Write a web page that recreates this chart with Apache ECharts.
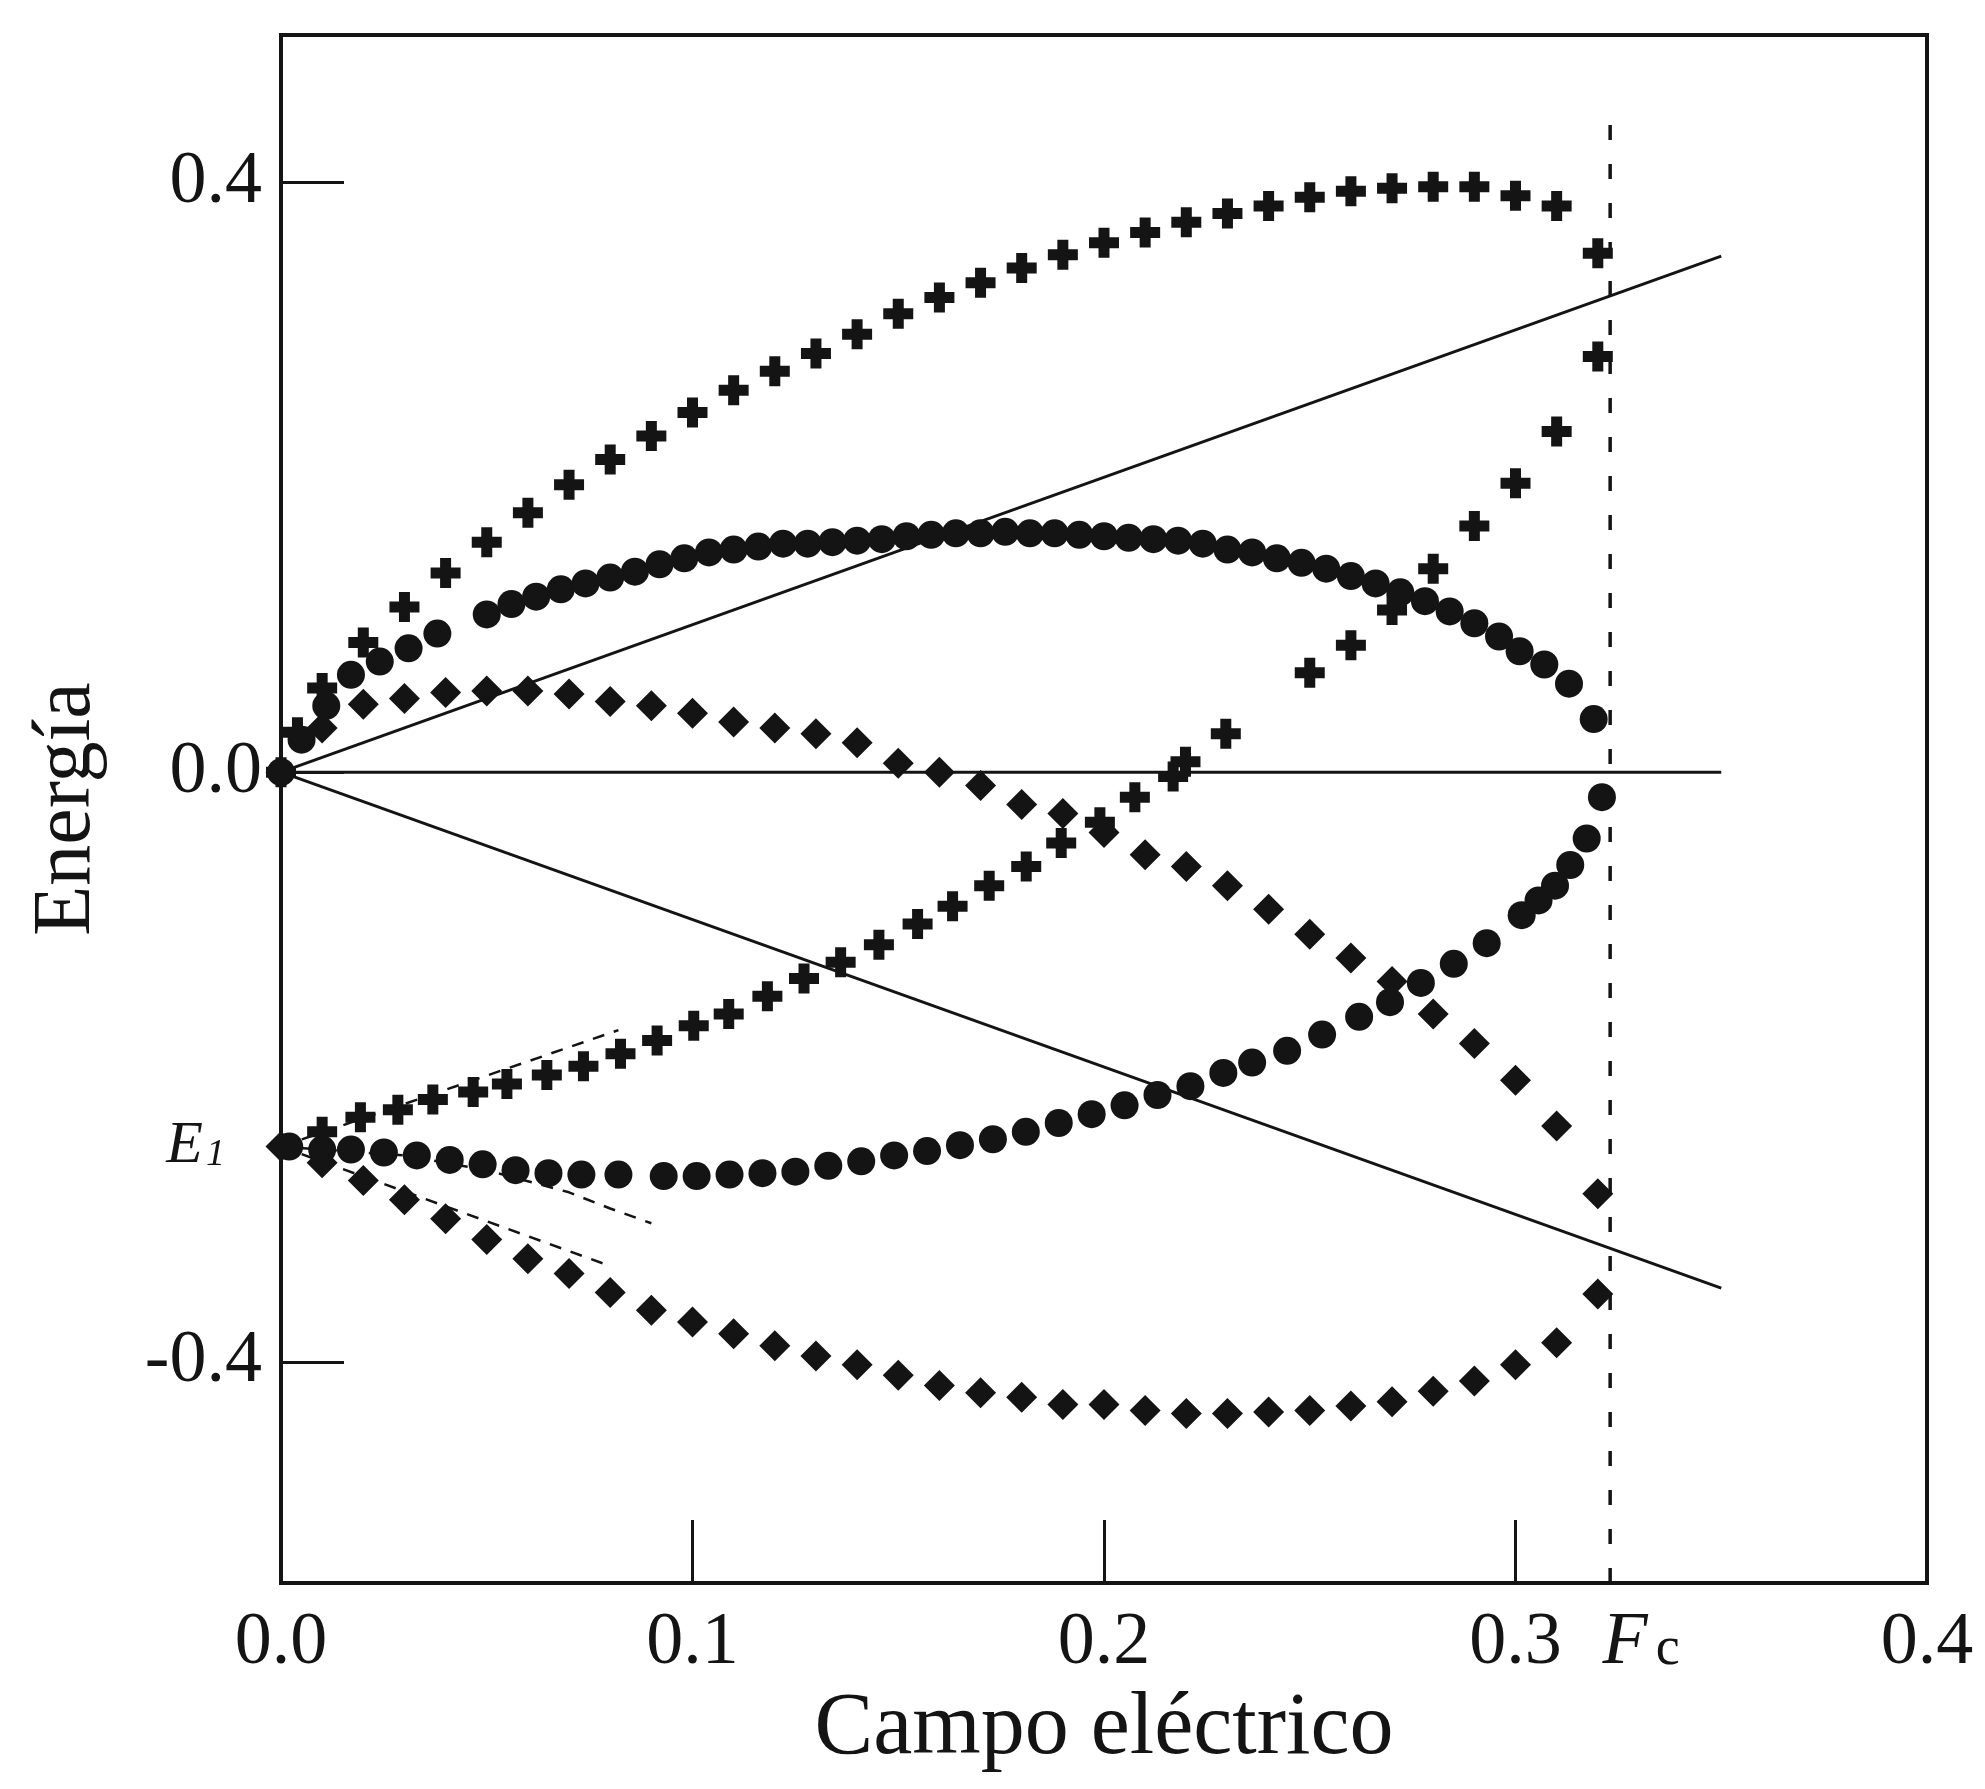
<!DOCTYPE html>
<html>
<head>
<meta charset="utf-8">
<script src="https://cdn.jsdelivr.net/npm/echarts@6.0.0/dist/echarts.min.js"></script>
<style>
html,body{margin:0;padding:0;background:#fff;}
#c{width:1985px;height:1789px;}
</style>
</head>
<body>
<div id="c"></div>
<script>
// ---- data ----
const FC = 0.323;   // critical field
const E1 = -0.254;  // level E1

const xLabelValues = [0, 0.1, 0.2, 0.3, FC, 0.4];
const xTickValues = [0.1, 0.2, 0.3];
const yLabelValues = [-0.4, E1, 0, 0.4];
const yTickValues = [-0.4, 0, 0.4];

// crosses
const crossUpF = [0, 0.004, 0.01, 0.02, 0.03, 0.04, 0.05, 0.06, 0.07, 0.08, 0.09, 0.10, 0.11, 0.12, 0.13, 0.14, 0.15, 0.16, 0.17, 0.18, 0.19, 0.20, 0.21, 0.22, 0.23, 0.24, 0.25, 0.26, 0.27, 0.28, 0.29, 0.30, 0.31, 0.32];
const crossUpE = [0.0, 0.027, 0.057, 0.088, 0.112, 0.135, 0.156, 0.176, 0.195, 0.212, 0.228, 0.244, 0.259, 0.272, 0.284, 0.297, 0.311, 0.322, 0.332, 0.342, 0.351, 0.359, 0.366, 0.373, 0.379, 0.384, 0.390, 0.394, 0.396, 0.397, 0.397, 0.391, 0.384, 0.352];
const crossLowF = [0.01, 0.0193, 0.0284, 0.0369, 0.0467, 0.0549, 0.0646, 0.0735, 0.0825, 0.0914, 0.1003, 0.1088, 0.1182, 0.1271, 0.136, 0.1453, 0.1547, 0.1632, 0.1721, 0.1811, 0.1896, 0.199, 0.2075, 0.2168, 0.2198, 0.2296, 0.25, 0.26, 0.27, 0.28, 0.29, 0.30, 0.31, 0.32];
const crossLowE = [-0.244, -0.234, -0.229, -0.222, -0.217, -0.2115, -0.2055, -0.1995, -0.191, -0.182, -0.172, -0.164, -0.152, -0.140, -0.129, -0.117, -0.103, -0.091, -0.077, -0.064, -0.048, -0.034, -0.017, -0.003, 0.007, 0.026, 0.0675, 0.086, 0.110, 0.138, 0.167, 0.196, 0.231, 0.282];

// circles
const circUpF = [0, 0.005, 0.011, 0.017, 0.024, 0.031, 0.038, 0.050, 0.056, 0.062, 0.068, 0.074, 0.080, 0.086, 0.092, 0.098, 0.104, 0.110, 0.116, 0.122, 0.128, 0.134, 0.140, 0.146, 0.152, 0.158, 0.164, 0.170, 0.176, 0.182, 0.188, 0.194, 0.200, 0.206, 0.212, 0.218, 0.224, 0.230, 0.236, 0.242, 0.248, 0.254, 0.260, 0.266, 0.272, 0.278, 0.284, 0.290, 0.296, 0.301, 0.307, 0.313, 0.319];
const circUpE = [0, 0.022, 0.045, 0.066, 0.075, 0.084, 0.094, 0.107, 0.114, 0.119, 0.124, 0.128, 0.132, 0.136, 0.141, 0.145, 0.149, 0.151, 0.153, 0.155, 0.155, 0.156, 0.157, 0.158, 0.160, 0.161, 0.162, 0.162, 0.163, 0.162, 0.162, 0.161, 0.160, 0.159, 0.158, 0.157, 0.155, 0.151, 0.149, 0.145, 0.142, 0.138, 0.133, 0.128, 0.122, 0.116, 0.109, 0.101, 0.092, 0.082, 0.073, 0.060, 0.036];
const circLowF = [0.002, 0.010, 0.017, 0.025, 0.033, 0.041, 0.049, 0.057, 0.065, 0.073, 0.082, 0.093, 0.101, 0.109, 0.117, 0.125, 0.133, 0.141, 0.149, 0.157, 0.165, 0.173, 0.181, 0.189, 0.197, 0.205, 0.213, 0.221, 0.229, 0.236, 0.2445, 0.253, 0.262, 0.2695, 0.277, 0.285, 0.293, 0.3015, 0.3056, 0.3096, 0.3133, 0.3173, 0.321];
const circLowE = [-0.254, -0.256, -0.256, -0.258, -0.260, -0.263, -0.266, -0.270, -0.272, -0.273, -0.273, -0.274, -0.274, -0.273, -0.272, -0.271, -0.267, -0.264, -0.260, -0.257, -0.253, -0.249, -0.244, -0.238, -0.232, -0.226, -0.219, -0.213, -0.204, -0.197, -0.189, -0.178, -0.166, -0.156, -0.143, -0.130, -0.116, -0.097, -0.087, -0.077, -0.063, -0.045, -0.017];

// diamonds
const diamF = [0, 0.01, 0.02, 0.03, 0.04, 0.05, 0.06, 0.07, 0.08, 0.09, 0.10, 0.11, 0.12, 0.13, 0.14, 0.15, 0.16, 0.17, 0.18, 0.19, 0.20, 0.21, 0.22, 0.23, 0.24, 0.25, 0.26, 0.27, 0.28, 0.29, 0.30, 0.31, 0.32];
const diamUpE = [0, 0.030, 0.046, 0.050, 0.054, 0.055, 0.055, 0.053, 0.048, 0.045, 0.040, 0.034, 0.030, 0.026, 0.020, 0.006, 0.000, -0.009, -0.022, -0.028, -0.041, -0.056, -0.064, -0.077, -0.093, -0.110, -0.126, -0.142, -0.164, -0.184, -0.209, -0.240, -0.286];
const diamLowE = [-0.254, -0.265, -0.277, -0.290, -0.303, -0.317, -0.330, -0.340, -0.353, -0.365, -0.373, -0.381, -0.389, -0.396, -0.402, -0.409, -0.416, -0.421, -0.424, -0.429, -0.429, -0.433, -0.435, -0.435, -0.434, -0.433, -0.430, -0.427, -0.420, -0.413, -0.402, -0.387, -0.354];

// reference straight lines E = +F, 0, -F
const refF = [0, 0.35];
const refUpE = [0, 0.35];
const refZeroE = [0, 0];
const refDownE = [0, -0.35];

// vertical dashed line at Fc
const fcLineE = [-0.55, 0.44];

// thin dashed approximations near E1
const pertUpF = [0, 0.082];
const pertUpE = [-0.254, -0.175];
const pertMidF = [0, 0.03, 0.05, 0.07, 0.08, 0.09];
const pertMidE = [-0.254, -0.260, -0.270, -0.285, -0.296, -0.306];
const pertLowF = [0, 0.08];
const pertLowE = [-0.254, -0.335];

// ---- chart ----
const INK = '#141414';
const FONT = '"Liberation Serif", "DejaVu Serif", serif';
const pairs = (F, E) => F.map((f, i) => [f, E[i]]);
const CROSS = 'path://M-1.1,-3L1.1,-3L1.1,-1.1L3,-1.1L3,1.1L1.1,1.1L1.1,3L-1.1,3L-1.1,1.1L-3,1.1L-3,-1.1L-1.1,-1.1Z';

function lineSeries(data, width, type) {
  return {
    type: 'line', data: data, symbol: 'none', silent: true, z: 2,
    lineStyle: { color: INK, width: width, type: type || 'solid' }
  };
}
function scatter(data, symbol, size) {
  return {
    type: 'scatter', data: data, symbol: symbol, symbolSize: size, z: 5, silent: true,
    itemStyle: { color: INK, opacity: 1 }
  };
}

const chart = echarts.init(document.getElementById('c'), null, { renderer: 'canvas' });
chart.setOption({
  animation: false,
  backgroundColor: '#ffffff',
  grid: {
    left: 281, top: 35, width: 1646, height: 1548,
    show: true, borderColor: INK, borderWidth: 4, backgroundColor: 'transparent'
  },
  xAxis: {
    type: 'value', min: 0, max: 0.4,
    axisLine: { show: false, onZero: false },
    splitLine: { show: false },
    axisTick: { show: true, inside: true, length: 63, customValues: xTickValues,
      lineStyle: { color: INK, width: 3 } },
    axisLabel: {
      customValues: xLabelValues, margin: 24, color: INK,
      fontFamily: FONT, fontSize: 74,
      formatter: function (v) {
        if (Math.abs(v - FC) < 1e-6) return '{f|F}{c|c}';
        return v.toFixed(1);
      },
      rich: {
        f: { fontFamily: FONT, fontStyle: 'italic', fontSize: 74, color: INK, padding: [0, 0, 0, 62] },
        c: { fontFamily: FONT, fontSize: 54, color: INK, padding: [12, 0, 0, 8] }
      }
    },
    name: 'Campo eléctrico', nameLocation: 'middle', nameGap: 68,
    nameTextStyle: { fontFamily: FONT, fontSize: 88, color: INK }
  },
  yAxis: {
    type: 'value', min: -0.55, max: 0.5,
    axisLine: { show: false, onZero: false },
    splitLine: { show: false },
    axisTick: { show: true, inside: true, length: 63, customValues: yTickValues,
      lineStyle: { color: INK, width: 3 } },
    axisLabel: {
      customValues: yLabelValues, margin: 19, color: INK,
      fontFamily: FONT, fontSize: 74,
      formatter: function (v) {
        if (Math.abs(v - E1) < 1e-6) return '{e|E}{s|1}';
        return v.toFixed(1);
      },
      rich: {
        e: { fontFamily: FONT, fontStyle: 'italic', fontSize: 60, color: INK },
        s: { fontFamily: FONT, fontStyle: 'italic', fontSize: 38, color: INK, padding: [16, 37, 0, 3] }
      }
    },
    name: 'Energía', nameLocation: 'middle', nameGap: 173,
    nameTextStyle: { fontFamily: FONT, fontSize: 82, color: INK }
  },
  series: [
    lineSeries(pairs(refF, refUpE), 3),
    lineSeries(pairs(refF, refZeroE), 3),
    lineSeries(pairs(refF, refDownE), 3),
    lineSeries([[FC, fcLineE[0]], [FC, fcLineE[1]]], 3.5, [15, 24]),
    lineSeries(pairs(pertUpF, pertUpE), 2.5, [12, 10]),
    lineSeries(pairs(pertMidF, pertMidE), 2.5, [12, 10]),
    lineSeries(pairs(pertLowF, pertLowE), 2.5, [12, 10]),
    scatter(pairs(circUpF, circUpE), 'circle', 28),
    scatter(pairs(circLowF, circLowE), 'circle', 28),
    scatter(pairs(diamF, diamUpE), 'diamond', 31),
    scatter(pairs(diamF, diamLowE), 'diamond', 31),
    scatter(pairs(crossUpF, crossUpE), CROSS, 30),
    scatter(pairs(crossLowF, crossLowE), CROSS, 30)
  ]
});
</script>
</body>
</html>
